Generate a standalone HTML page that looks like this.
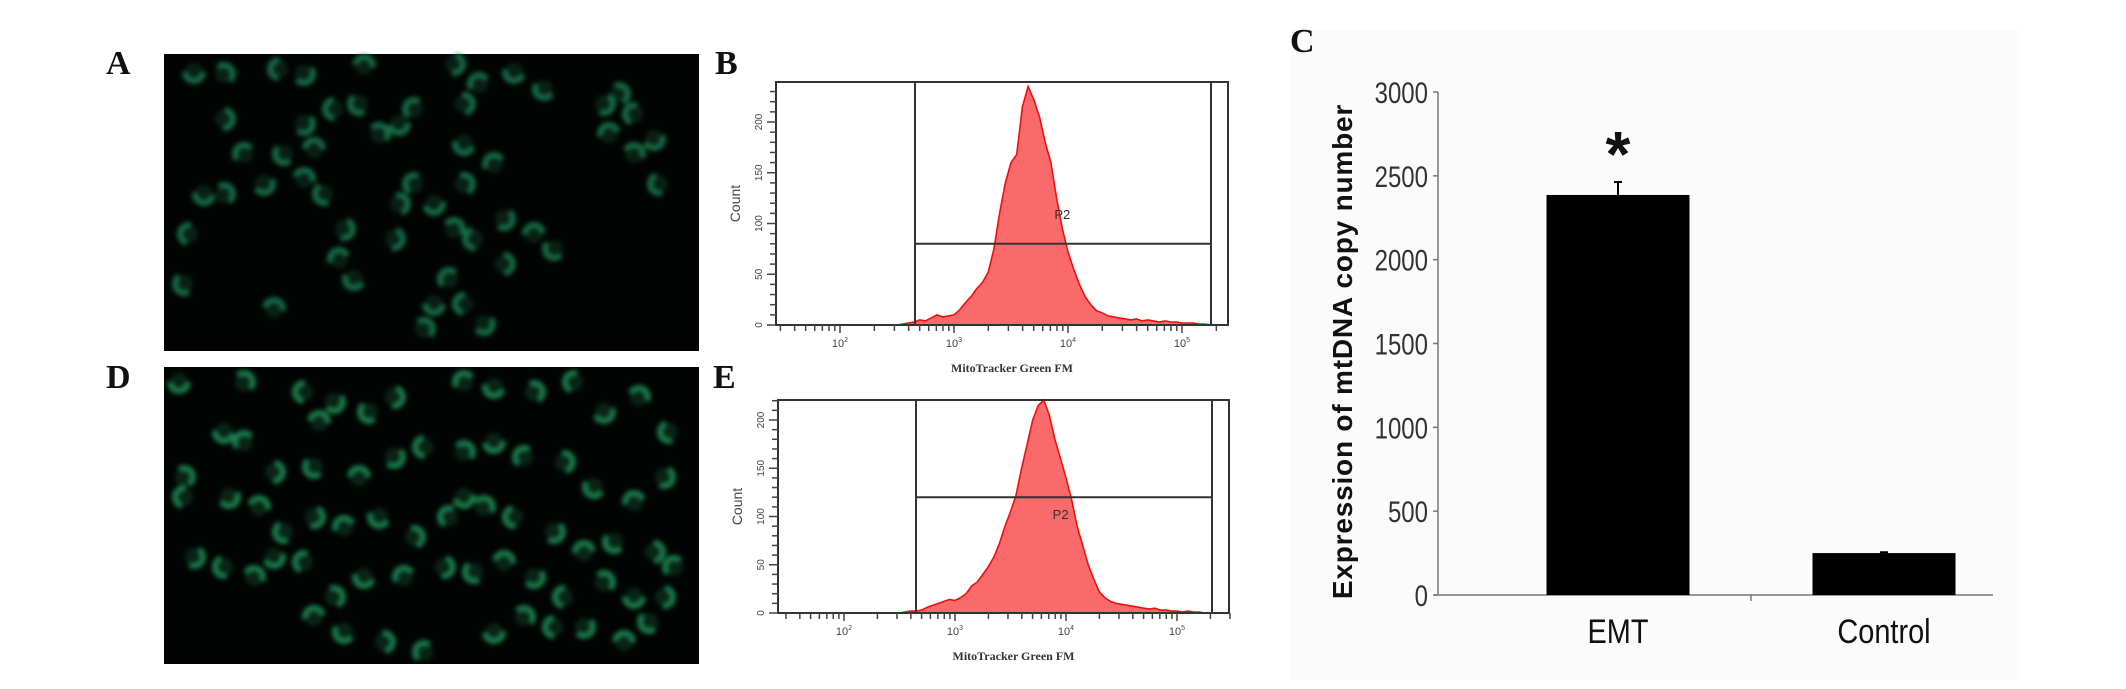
<!DOCTYPE html>
<html><head><meta charset="utf-8"><style>
html,body{margin:0;padding:0;background:#fff;}
body{width:2126px;height:689px;overflow:hidden;position:relative;font-family:"Liberation Sans",sans-serif;}
svg{position:absolute;left:0;top:0;}
</style></head><body>
<svg id="fig" width="2126" height="689" viewBox="0 0 2126 689">
<defs>
<filter id="blur" x="-50%" y="-50%" width="200%" height="200%"><feGaussianBlur stdDeviation="2.5"/></filter>
</defs>
<rect x="1290" y="30" width="730" height="650" fill="#fbfbfb"/>
<g font-family="Liberation Serif, serif" font-weight="bold" font-size="34" fill="#111">
<text x="106" y="74">A</text>
<text x="106" y="388">D</text>
<text x="715" y="74">B</text>
<text x="713" y="388">E</text>
<text x="1290" y="52">C</text>
</g>
<rect x="164" y="54" width="535" height="297" fill="#020403"/>
<rect x="164" y="367" width="535" height="297" fill="#020403"/>
<g id="cellsA" filter="url(#blur)"></g>
<g id="cellsD" filter="url(#blur)"></g>
<g id="histB"></g>
<g id="histE"></g>
<g id="barC"></g>
</svg>
<script>
// ---- Histogram data (log10 fluorescence bins, counts) ----
const binStart = 2.5;
const binStep = 0.05;
const countsB = [0,1,2,3,5,4,7,10,8,9,10,15,22,28,36,42,52,75,110,140,160,168,215,235,222,205,180,160,125,95,72,55,40,28,20,14,12,9,8,7,6,5,6,4,5,4,3,4,3,3,2,2,2,1,1,0,0];
const countsE = [0,1,2,2,3,6,8,10,12,14,13,16,20,28,32,40,48,58,72,90,105,122,150,175,200,215,222,205,180,160,140,118,90,70,50,35,22,16,12,10,9,8,7,6,5,4,5,3,3,2,2,1,2,1,1,0,0];
const gateB = 80;
const gateE = 120;
const yTicksHist = [0,50,100,150,200];
const xDecades = [2,3,4,5];
// ---- Bar chart data ----
const barCategories = ["EMT","Control"];
const barValues = [2386,250];
const barErrors = [77,5];
const barYTicks = [0,500,1000,1500,2000,2500,3000];

const NS="http://www.w3.org/2000/svg";
function mk(tag,attrs,parent){const e=document.createElementNS(NS,tag);for(const k in attrs)e.setAttribute(k,attrs[k]);parent.appendChild(e);return e;}

function drawHist(gid,counts,gate,frame){
  const g=document.getElementById(gid);
  const {L,R,T,B,x2,x3,yPer100,gL,gR}=frame;
  const pxDec=x3-x2;
  const X=v=>x3+(v-3)*pxDec;
  const Y=c=>B-c*yPer100/100;
  mk('rect',{x:L,y:T,width:R-L,height:B-T,fill:'#fff',stroke:'none'},g);
  let d='M'+X(binStart)+','+B;
  counts.forEach((c,i)=>{const lv=binStart+i*binStep;d+=' L'+X(lv).toFixed(1)+','+Math.max(T,Y(c)).toFixed(1);});
  d+=' L'+X(binStart+(counts.length-1)*binStep)+','+B+' Z';
  const area=mk('path',{d:d,fill:'#fb6a6a',stroke:'#ee1010','stroke-width':1.6},g);
  
  
  mk('rect',{x:L,y:T,width:R-L,height:B-T,fill:'none',stroke:'#333','stroke-width':2},g);
  const gl=mk('line',{x1:gL,y1:T,x2:gL,y2:B,stroke:'#333','stroke-width':2},g);
  
  
  mk('line',{x1:gR,y1:T,x2:gR,y2:B,stroke:'#333','stroke-width':2},g);
  const gh=mk('line',{x1:gL,y1:Y(gate),x2:gR,y2:Y(gate),stroke:'#333','stroke-width':2},g);
  
  
  const p2=mk('text',{x:X(3.88),y:Y(gate)+(gid==='histB'?-25:22),'font-size':13,fill:'#333'},g);
  p2.textContent='P2';
  
  
  for(let c=0;c*yPer100/100<=B-T;c+=10){
    const len=c%50===0?9:6;
    mk('line',{x1:L-len,y1:Y(c),x2:L,y2:Y(c),stroke:'#444','stroke-width':1.5},g);
  }
  yTicksHist.forEach(v=>{
    const t=mk('text',{x:L-14,y:Y(v),'font-size':10,fill:'#444','text-anchor':'middle',transform:`rotate(-90 ${L-14} ${Y(v)})`},g);
    t.textContent=v;
    
    
  });
  const ct=mk('text',{x:L-36,y:(T+B)/2,'font-size':14,fill:'#444','text-anchor':'middle',transform:`rotate(-90 ${L-36} ${(T+B)/2})`},g);
  ct.textContent='Count';
  
  
  for(let dec=1;dec<=5;dec++){
    for(let m=1;m<10;m++){
      const x=X(dec+Math.log10(m));
      if(x<L+3||x>R+8)continue;
      mk('line',{x1:x,y1:B,x2:x,y2:B+(m===1?8:6),stroke:'#444','stroke-width':1.5},g);
    }
  }
  xDecades.forEach(dv=>{
    const t=mk('text',{x:X(dv),y:B+22,'font-size':11,fill:'#444','text-anchor':'middle'},g);
    t.textContent='10';
    const s=mk('tspan',{'font-size':7,dy:-5},t);s.textContent=dv;
    
    
  });
  const xt=mk('text',{x:(L+R)/2+10,y:B+47,'font-size':12,'font-weight':'bold',fill:'#333','text-anchor':'middle','font-family':'Liberation Serif, serif'},g);
  xt.textContent='MitoTracker Green FM';
  
  
}
drawHist('histB',countsB,gateB,{L:776,R:1228,T:82,B:325,x2:840,x3:954,yPer100:101.5,gL:915,gR:1211});
drawHist('histE',countsE,gateE,{L:778,R:1229,T:400,B:613,x2:844,x3:955,yPer100:96.5,gL:916,gR:1212});

// ---- Bar chart ----
(function(){
  const g=document.getElementById('barC');
  const x0=1438,xEnd=1993,y0=595,yTop=92,vmax=3000;
  const Y=v=>y0-(v/vmax)*(y0-yTop);
  const firstCenter=x0+180, step=266;
  const barW=143;
  mk('line',{x1:x0,y1:yTop,x2:x0,y2:y0,stroke:'#777','stroke-width':1.5},g);
  mk('line',{x1:x0-4,y1:y0,x2:xEnd,y2:y0,stroke:'#777','stroke-width':1.5},g);
  mk('line',{x1:firstCenter+step/2,y1:y0,x2:firstCenter+step/2,y2:y0+6,stroke:'#777','stroke-width':1.5},g);
  barYTicks.forEach(v=>{
    mk('line',{x1:x0-5,y1:Y(v),x2:x0,y2:Y(v),stroke:'#777','stroke-width':1.5},g);
    const t=mk('text',{x:x0-10,y:Y(v)+11,'font-size':30,fill:'#333','text-anchor':'end',transform:`scale(0.8,1)`,'transform-origin':`${x0-10} ${Y(v)}`},g);
    t.textContent=v;
    
    
  });
  barCategories.forEach((c,i)=>{
    const cx=firstCenter+i*step;
    const r=mk('rect',{x:cx-barW/2,y:Y(barValues[i]),width:barW,height:y0-Y(barValues[i]),fill:'#000'},g);
    
    
    const et=Y(barValues[i]+barErrors[i]);
    mk('line',{x1:cx,y1:Y(barValues[i]),x2:cx,y2:et,stroke:'#000','stroke-width':2},g);
    mk('line',{x1:cx-4,y1:et,x2:cx+4,y2:et,stroke:'#000','stroke-width':2},g);
    const t=mk('text',{x:cx,y:y0+48,'font-size':34,fill:'#111','text-anchor':'middle',transform:'scale(0.85,1)','transform-origin':`${cx} ${y0}`},g);
    t.textContent=c;
    
    
    if(i===0){
      const s=mk('text',{x:cx,y:et-6,'font-size':64,'font-weight':'bold',fill:'#111','text-anchor':'middle'},g);
      s.textContent='*';
      
      
    }
  });
  const cy=(yTop+y0)/2+8;
  const yt=mk('text',{x:1352,y:cy,'font-size':28,'font-weight':'bold',fill:'#111','text-anchor':'middle',transform:`rotate(-90 1352 ${cy})`,'letter-spacing':'0.8'},g);
  yt.textContent='Expression of mtDNA copy number';
  
  
})();

// ---- Micrograph cell blobs (decorative) ----
(function(){
  function cells(gid,ox,oy,pts,col){
    const g=document.getElementById(gid);
    pts.forEach((p,i)=>{
      mk('circle',{cx:ox+p[0],cy:oy+p[1],r:9,fill:col,opacity:0.18},g);
      mk('path',{d:`M${ox+p[0]-9},${oy+p[1]} a9,9 0 0,${i%2} 18,0`,fill:'none',stroke:col,'stroke-width':6,opacity:0.65,transform:`rotate(${(i*47)%360} ${ox+p[0]} ${oy+p[1]})`},g);
    });
  }
  const A=[[30,18],[60,20],[115,15],[140,20],[200,12],[195,50],[290,10],[315,30],[350,18],[455,40],[470,60],[490,85],[470,100],[495,130],[440,50],[445,80],[380,35],[300,50],[250,55],[235,70],[215,80],[170,55],[140,70],[150,95],[120,100],[60,65],[80,100],[40,140],[60,140],[25,180],[100,130],[140,125],[160,140],[180,175],[175,205],[190,225],[235,150],[250,130],[270,150],[290,175],[310,185],[340,165],[370,180],[390,195],[340,210],[285,225],[270,250],[260,275],[300,250],[320,270],[110,255],[20,230],[230,185],[330,110],[300,90],[300,130]];
  const D=[[15,15],[80,15],[140,25],[170,35],[155,55],[205,45],[230,30],[300,15],[330,20],[370,25],[410,15],[440,45],[475,30],[505,65],[500,110],[470,135],[430,120],[400,95],[360,90],[330,75],[300,85],[260,80],[230,90],[195,110],[150,100],[110,105],[80,75],[60,65],[20,110],[20,130],[65,130],[95,140],[120,165],[150,150],[180,160],[215,150],[250,170],[285,150],[300,130],[320,140],[350,150],[390,165],[420,185],[450,175],[490,185],[510,200],[470,230],[440,215],[400,230],[370,210],[340,195],[310,205],[280,200],[240,210],[200,210],[170,230],[140,195],[110,190],[90,210],[60,200],[30,190],[150,250],[180,265],[220,275],[260,285],[330,265],[360,250],[390,260],[420,260],[460,275],[485,255],[500,230]];
  cells('cellsA',164,54,A,'#1f9a62');
  cells('cellsD',164,367,D,'#22b26a');
})();
</script>
</body></html>
